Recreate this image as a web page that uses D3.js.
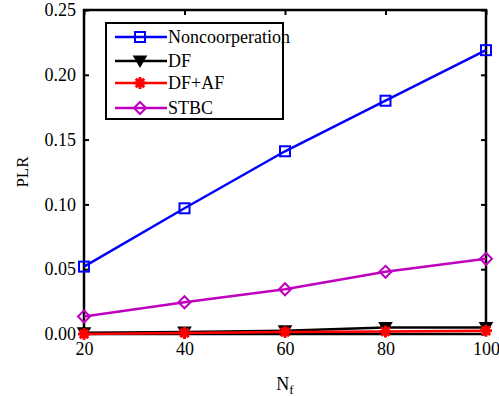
<!DOCTYPE html>
<html>
<head>
<meta charset="utf-8">
<script src="https://cdn.jsdelivr.net/npm/d3@7"></script>
<style>
  body { margin: 0; background: #fff; }
</style>
</head>
<body>
<div id="chart"></div>
<script>
// data
const nf = [20, 40, 60, 80, 100];
const noncoop = [0.052, 0.097, 0.141, 0.180, 0.219];
const df = [0.001, 0.0015, 0.0025, 0.005, 0.005];
const dfaf = [0.0, 0.0008, 0.0015, 0.002, 0.0025];
const stbc = [0.0135, 0.0245, 0.0345, 0.048, 0.058];
const yTicks = [0, 0.05, 0.10, 0.15, 0.20, 0.25];
const xTicks = [20, 40, 60, 80, 100];

const FONT = 'Liberation Serif';

const series = [
  { name: 'Noncoorperation', values: noncoop, color: '#0000ff', marker: 'square' },
  { name: 'DF', values: df, color: '#000000', marker: 'tri' },
  { name: 'DF+AF', values: dfaf, color: '#ff0000', marker: 'star' },
  { name: 'STBC', values: stbc, color: '#bf00bf', marker: 'diamond' }
];

const W = 499, H = 396;
const margin = { top: 10, right: 13, bottom: 62, left: 84 };
const width = W - margin.left - margin.right;
const height = H - margin.top - margin.bottom;

const svg = d3.select('#chart').append('svg')
  .attr('width', W).attr('height', H)
  .attr('font-family', FONT);

const g = svg.append('g')
  .attr('transform', 'translate(' + margin.left + ',' + margin.top + ')');

const x = d3.scaleLinear().domain([20, 100]).range([0, width]);
const y = d3.scaleLinear().domain([0, 0.25]).range([height, 0]);

// axes, ticks pointing inward
const axes = [];
axes.push(g.append('g')
  .attr('transform', 'translate(0,' + height + ')')
  .call(d3.axisBottom(x).tickValues(xTicks).tickSize(-5).tickPadding(8).tickFormat(d3.format('d'))));
axes.push(g.append('g')
  .call(d3.axisLeft(y).tickValues(yTicks).tickSize(-5).tickPadding(8).tickFormat(d3.format('.2f'))));
axes.push(g.append('g')
  .call(d3.axisTop(x).tickValues(xTicks).tickSize(-5).tickFormat('')));
axes.push(g.append('g')
  .attr('transform', 'translate(' + width + ',0)')
  .call(d3.axisRight(y).tickValues(yTicks).tickSize(-5).tickFormat('')));
axes.forEach(a => {
  a.select('.domain').remove();
  a.attr('font-family', FONT).attr('font-size', 18);
});

g.selectAll('.tick line').attr('stroke', '#000').attr('stroke-width', 2);
g.selectAll('.tick text').attr('fill', '#000');

g.append('rect')
  .attr('width', width).attr('height', height)
  .attr('fill', 'none').attr('stroke', '#000').attr('stroke-width', 2.5);

function drawMarker(sel, m, color, s) {
  if (m === 'square') {
    sel.append('rect').attr('x', -s).attr('y', -s).attr('width', 2 * s).attr('height', 2 * s)
      .attr('fill', 'none').attr('stroke', color).attr('stroke-width', 2);
  } else if (m === 'tri') {
    sel.append('path').attr('d', `M${-s},${-s * 0.8}L${s},${-s * 0.8}L0,${s * 0.9}Z`)
      .attr('fill', color).attr('stroke', color).attr('stroke-width', 1.5);
  } else if (m === 'star') {
    sel.append('path')
      .attr('d', `M${-s},0L${s},0M0,${-s}L0,${s}M${-s * 0.7},${-s * 0.7}L${s * 0.7},${s * 0.7}M${-s * 0.7},${s * 0.7}L${s * 0.7},${-s * 0.7}`)
      .attr('stroke', color).attr('stroke-width', 3);
  } else if (m === 'diamond') {
    sel.append('path').attr('d', `M0,${-s}L${s},0L0,${s}L${-s},0Z`)
      .attr('fill', 'none').attr('stroke', color).attr('stroke-width', 2);
  }
}

const line = d3.line().x((d, i) => x(nf[i])).y(d => y(d));

series.forEach(s => {
  g.append('path').datum(s.values)
    .attr('d', line)
    .attr('fill', 'none').attr('stroke', s.color).attr('stroke-width', 2.5);
  s.values.forEach((v, i) => {
    const mk = g.append('g').attr('transform', 'translate(' + x(nf[i]) + ',' + y(v) + ')');
    drawMarker(mk, s.marker, s.color, s.marker === 'square' ? 5 : 6);
  });
});

// legend
const leg = svg.append('g').attr('transform', 'translate(106,23)');
leg.append('rect').attr('width', 177).attr('height', 96)
  .attr('fill', '#fff').attr('stroke', '#000').attr('stroke-width', 2);
const rowY = [14, 38, 60, 85];
series.forEach((s, i) => {
  const r = leg.append('g').attr('transform', 'translate(0,' + rowY[i] + ')');
  r.append('line').attr('x1', 9).attr('x2', 61).attr('stroke', s.color).attr('stroke-width', 2.5);
  const mk = r.append('g').attr('transform', 'translate(34,0)');
  drawMarker(mk, s.marker, s.color, s.marker === 'square' ? 5 : 6);
  r.append('text').attr('x', 62).attr('dy', '0.35em')
    .attr('font-family', FONT).attr('font-size', 18).text(s.name);
});

// axis titles
svg.append('text')
  .attr('transform', 'translate(28,' + (margin.top + height / 2) + ') rotate(-90)')
  .attr('text-anchor', 'middle').attr('font-family', FONT).attr('font-size', 17).text('PLR');
const xt = svg.append('text')
  .attr('x', margin.left + width / 2).attr('y', 390)
  .attr('text-anchor', 'middle').attr('font-family', FONT).attr('font-size', 18);
xt.append('tspan').text('N');
xt.append('tspan').attr('dy', 4).attr('font-size', 13).text('f');
</script>
</body>
</html>
